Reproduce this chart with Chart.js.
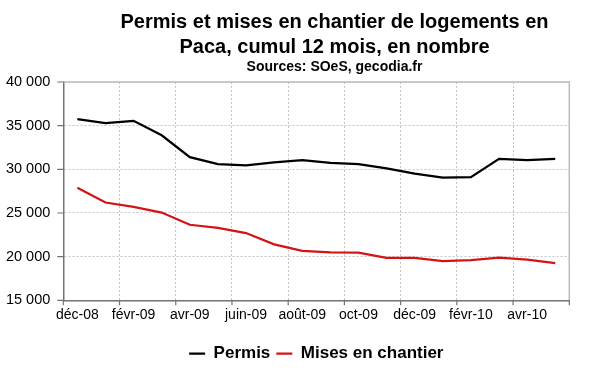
<!DOCTYPE html>
<html>
<head>
<meta charset="utf-8">
<script src="https://cdn.jsdelivr.net/npm/chart.js@4.4.1/dist/chart.umd.min.js"></script>
<style>
  html, body { margin: 0; padding: 0; background: #ffffff; }
  #wrap { position: relative; width: 600px; height: 372px; }
</style>
</head>
<body>
<div id="wrap"><canvas id="c" width="600" height="372"></canvas></div>
<script>
// ---- data ----
const months = ["déc-08","janv-09","févr-09","mars-09","avr-09","mai-09","juin-09","juil-09","août-09","sept-09","oct-09","nov-09","déc-09","janv-10","févr-10","mars-10","avr-10","mai-10"];
const permis = [35750, 35300, 35550, 33900, 31400, 30600, 30450, 30800, 31050, 30750, 30600, 30100, 29500, 29050, 29100, 31200, 31050, 31200];
const misesEnChantier = [27900, 26200, 25700, 25050, 23650, 23300, 22700, 21400, 20650, 20500, 20450, 19850, 19850, 19500, 19600, 19900, 19650, 19250];
const yTicks = [15000, 20000, 25000, 30000, 35000, 40000];
const titleLines = ["Permis et mises en chantier de logements en", "Paca, cumul 12 mois, en nombre"];
const subtitleText = "Sources: SOeS, gecodia.fr";

const FONT = '"Liberation Sans", Arial, sans-serif';
const AXIS_COLOR = '#737373';
const GRID_COLOR = '#c4c4c4';

const fmt = v => String(v).replace(/\B(?=(\d{3})+(?!\d))/g, ' ');

const framePlugin = {
  id: 'frame',
  beforeDatasetsDraw(chart) {
    const {ctx, chartArea: a, scales} = chart;
    ctx.save();
    // top and right plot border
    ctx.strokeStyle = '#bcbcbc';
    ctx.lineWidth = 1.5;
    ctx.beginPath();
    ctx.moveTo(a.left, a.top);
    ctx.lineTo(a.right, a.top);
    ctx.lineTo(a.right, a.bottom);
    ctx.stroke();
    // tick marks
    ctx.strokeStyle = AXIS_COLOR;
    ctx.lineWidth = 1.2;
    ctx.beginPath();
    scales.y.ticks.forEach(t => {
      const y = scales.y.getPixelForValue(t.value);
      ctx.moveTo(a.left - 6, y);
      ctx.lineTo(a.left, y);
    });
    const xs = scales.x;
    const half = (xs.getPixelForValue(1) - xs.getPixelForValue(0)) / 2;
    for (let i = 0; i <= months.length; i += 2) {
      const x = i < months.length ? xs.getPixelForValue(i) - half : a.right;
      ctx.moveTo(x, a.bottom);
      ctx.lineTo(x, a.bottom + 5);
    }
    ctx.stroke();
    ctx.restore();
  },
  afterDraw(chart) {
    const {ctx} = chart;
    ctx.save();
    ctx.fillStyle = '#000';
    ctx.textAlign = 'center';
    ctx.textBaseline = 'alphabetic';
    ctx.font = 'bold 20px ' + FONT;
    ctx.fillText(titleLines[0], 334.5, 28);
    ctx.fillText(titleLines[1], 334.5, 53);
    ctx.font = 'bold 14px ' + FONT;
    ctx.fillText(subtitleText, 334.5, 71);
    ctx.restore();
  }
};

new Chart(document.getElementById('c'), {
  type: 'line',
  data: {
    labels: months,
    datasets: [
      {
        label: 'Permis',
        data: permis,
        borderColor: '#000000',
        backgroundColor: '#000000',
        borderWidth: 2.25,
        pointRadius: 0,
        tension: 0
      },
      {
        label: 'Mises en chantier',
        data: misesEnChantier,
        borderColor: '#d41414',
        backgroundColor: '#d41414',
        borderWidth: 2.25,
        pointRadius: 0,
        tension: 0
      }
    ]
  },
  options: {
    responsive: false,
    animation: false,
    devicePixelRatio: 1,
    layout: { padding: { top: 82, left: 0, right: 30.7, bottom: 0 } },
    scales: {
      x: {
        type: 'category',
        offset: true,
        grid: {
          display: true,
          offset: true,
          drawTicks: false,
          lineWidth: 1,
          color: c => (c.index !== undefined && c.index % 2 === 0) ? GRID_COLOR : 'rgba(0,0,0,0)'
        },
        border: { display: true, color: AXIS_COLOR, width: 1.5, dash: [2, 2] },
        ticks: {
          autoSkip: false,
          maxRotation: 0,
          minRotation: 0,
          padding: 6,
          color: '#000',
          font: { family: FONT, size: 14 },
          callback: function (value, index) {
            return index % 2 === 0 ? this.getLabelForValue(value) : '';
          }
        },
        afterFit: s => { s.height = 38.7; }
      },
      y: {
        min: 15000,
        max: 40000,
        afterBuildTicks: s => { s.ticks = yTicks.map(v => ({ value: v })); },
        grid: { drawTicks: false, color: GRID_COLOR, lineWidth: 1 },
        border: { display: true, color: AXIS_COLOR, width: 1.5, dash: [2, 2] },
        ticks: {
          padding: 13,
          color: '#000',
          font: { family: FONT, size: 14.5 },
          callback: v => fmt(v)
        },
        afterFit: s => { s.width = 63.3; }
      }
    },
    plugins: {
      title: { display: false },
      tooltip: { enabled: false },
      legend: {
        display: true,
        position: 'bottom',
        fullSize: false,
        labels: {
          usePointStyle: true,
          pointStyle: 'line',
          pointStyleWidth: 16,
          padding: 6,
          color: '#000',
          font: { family: FONT, size: 17, weight: 'bold' }
        }
      }
    }
  },
  plugins: [framePlugin]
});
</script>
</body>
</html>
